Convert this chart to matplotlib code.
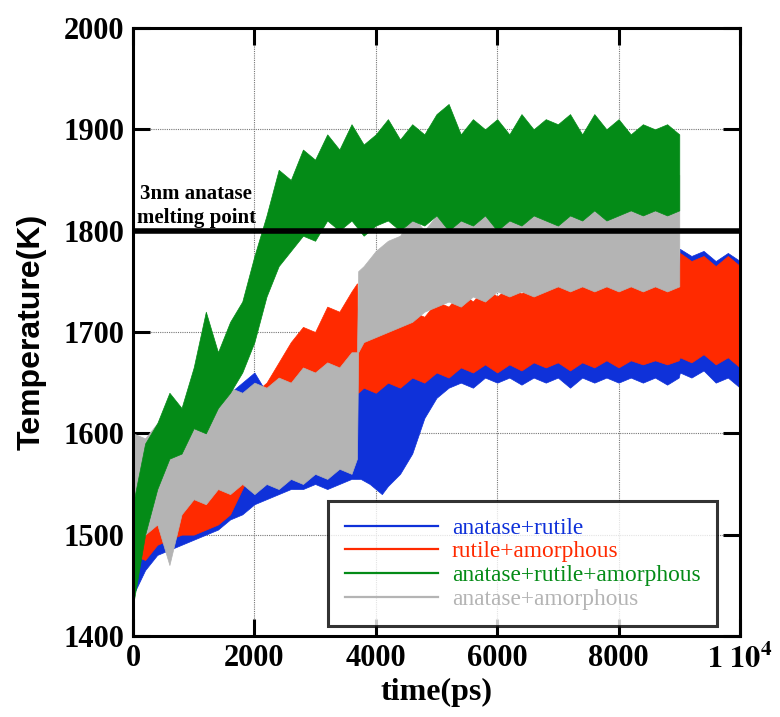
import matplotlib
matplotlib.use("Agg")
import matplotlib.pyplot as plt
from matplotlib.lines import Line2D
from matplotlib.ticker import FixedLocator, FixedFormatter

# Temperature traces: time (ps) with lower / upper extent of the fluctuating signal (K)
t_ar = [0, 200, 400, 600, 800, 1000, 1200, 1400, 1600, 1800, 2000, 2200, 2400, 2600,
        2800, 3000, 3200, 3400, 3600, 3750, 3900, 4000, 4100, 4200, 4400, 4600, 4800,
        5000, 5200, 5400, 5600, 5800, 6000, 6200, 6400, 6600, 6800, 7000, 7200, 7400,
        7600, 7800, 8000, 8200, 8400, 8600, 8800, 8990, 9010, 9200, 9400, 9600, 9800,
        10000]
ar_lo = [1440, 1465, 1480, 1485, 1490, 1495, 1500, 1505, 1515, 1520, 1530, 1535, 1540, 1545,
         1545, 1550, 1545, 1550, 1555, 1555, 1550, 1545, 1540, 1548, 1560, 1580, 1615,
         1635, 1645, 1650, 1645, 1655, 1650, 1655, 1648, 1655, 1650, 1655, 1645, 1655,
         1650, 1655, 1650, 1655, 1650, 1655, 1648, 1655, 1660, 1655, 1662, 1650, 1655,
         1645]
ar_hi = [1560, 1570, 1575, 1585, 1590, 1600, 1610, 1620, 1640, 1650, 1660, 1640, 1650, 1640,
         1650, 1645, 1650, 1655, 1660, 1660, 1665, 1662, 1670, 1665, 1675, 1685, 1700,
         1710, 1720, 1725, 1730, 1730, 1735, 1740, 1735, 1740, 1738, 1745, 1740, 1745,
         1740, 1750, 1760, 1748, 1745, 1750, 1745, 1748, 1782, 1775, 1780, 1770, 1778,
         1770]

t_ra = [0, 200, 400, 600, 800, 1000, 1200, 1400, 1600, 1800, 2000, 2200, 2400, 2600,
        2800, 3000, 3200, 3400, 3600, 3690, 3710, 3800, 4000, 4200, 4400, 4600, 4800,
        5000, 5200, 5400, 5600, 5800, 6000, 6200, 6400, 6600, 6800, 7000, 7200, 7400,
        7600, 7800, 8000, 8200, 8400, 8600, 8800, 8990, 9010, 9200, 9400, 9600, 9800,
        10000]
ra_lo = [1480, 1475, 1490, 1495, 1500, 1500, 1505, 1510, 1520, 1545, 1570, 1595, 1615, 1625,
         1630, 1640, 1645, 1655, 1660, 1670, 1640, 1645, 1640, 1650, 1645, 1655, 1650,
         1660, 1655, 1665, 1660, 1668, 1660, 1668, 1662, 1670, 1665, 1670, 1662, 1670,
         1665, 1672, 1665, 1672, 1668, 1672, 1668, 1672, 1675, 1670, 1678, 1668, 1675,
         1665]
ra_hi = [1570, 1560, 1555, 1560, 1560, 1565, 1570, 1580, 1600, 1625, 1640, 1650, 1670, 1690,
         1705, 1700, 1725, 1720, 1740, 1748, 1690, 1695, 1700, 1705, 1710, 1720, 1715,
         1730, 1725, 1740, 1730, 1745, 1735, 1745, 1738, 1748, 1740, 1750, 1742, 1750,
         1745, 1755, 1745, 1752, 1745, 1755, 1748, 1750, 1778, 1770, 1775, 1765, 1775,
         1765]

t_ara = [0, 200, 400, 600, 800, 1000, 1200, 1400, 1600, 1800, 2000, 2200, 2400, 2600,
         2800, 3000, 3200, 3400, 3600, 3800, 4000, 4200, 4400, 4600, 4800, 5000, 5200,
         5400, 5600, 5800, 6000, 6200, 6400, 6600, 6800, 7000, 7200, 7400, 7600, 7800,
         8000, 8200, 8400, 8600, 8800, 9000]
ara_lo = [1430, 1500, 1545, 1575, 1580, 1605, 1600, 1625, 1640, 1660, 1690, 1735, 1765, 1780,
          1795, 1790, 1810, 1800, 1810, 1795, 1805, 1810, 1800, 1810, 1805, 1815, 1800,
          1810, 1805, 1815, 1800, 1810, 1805, 1815, 1810, 1805, 1815, 1810, 1820, 1810,
          1815, 1820, 1815, 1820, 1815, 1820]
ara_hi = [1530, 1590, 1610, 1640, 1625, 1665, 1720, 1680, 1710, 1730, 1775, 1815, 1860, 1850,
          1880, 1870, 1895, 1880, 1905, 1885, 1895, 1910, 1890, 1905, 1895, 1915, 1925,
          1895, 1910, 1900, 1910, 1895, 1915, 1900, 1910, 1905, 1915, 1895, 1915, 1900,
          1910, 1895, 1905, 1900, 1905, 1895]

t_aa = [0, 200, 400, 600, 800, 1000, 1200, 1400, 1600, 1800, 2000, 2200, 2400, 2600,
        2800, 3000, 3200, 3400, 3600, 3690, 3710, 3800, 4000, 4200, 4400, 4600, 4800,
        5000, 5200, 5400, 5600, 5800, 6000, 6200, 6400, 6600, 6800, 7000, 7200, 7400,
        7600, 7800, 8000, 8200, 8400, 8600, 8800, 9000]
aa_lo = [1470, 1500, 1510, 1470, 1520, 1535, 1530, 1545, 1540, 1550, 1540, 1550, 1545, 1555,
         1550, 1560, 1555, 1565, 1560, 1575, 1680, 1690, 1695, 1700, 1705, 1710, 1720,
         1725, 1730, 1725, 1735, 1730, 1740, 1735, 1740, 1735, 1740, 1745, 1740, 1745,
         1740, 1745, 1740, 1745, 1740, 1745, 1740, 1745]
aa_hi = [1600, 1595, 1610, 1600, 1620, 1625, 1640, 1630, 1645, 1640, 1650, 1645, 1655, 1650,
         1665, 1660, 1670, 1665, 1680, 1680, 1760, 1765, 1780, 1790, 1795, 1815, 1800,
         1815, 1810, 1820, 1815, 1830, 1820, 1830, 1825, 1835, 1830, 1840, 1835, 1845,
         1840, 1850, 1845, 1855, 1850, 1860, 1855, 1855]

melting_point = 1800
labels = ["anatase+rutile", "rutile+amorphous", "anatase+rutile+amorphous", "anatase+amorphous"]
colors = ["#0f31d9", "#ff2a00", "#048b17", "#b4b4b4"]
x_ticks = [0, 2000, 4000, 6000, 8000, 10000]
x_ticklabels = ["0", "2000", "4000", "6000", "8000", r"$\mathbf{1\ 10^{4}}$"]
y_ticks = [1400, 1500, 1600, 1700, 1800, 1900, 2000]

plt.rcParams["mathtext.fontset"] = "stix"
serif = "Liberation Serif"

fig = plt.figure(figsize=(7.8, 7.17), dpi=100)
ax = fig.add_axes([0.1705, 0.113, 0.7782, 0.848])

ax.fill_between(t_ar, ar_lo, ar_hi, color=colors[0], lw=0.5, zorder=2)
ax.fill_between(t_ra, ra_lo, ra_hi, color=colors[1], lw=0.5, zorder=3)
ax.fill_between(t_aa, aa_lo, aa_hi, color=colors[3], lw=0.5, zorder=4)
ax.fill_between(t_ara, ara_lo, ara_hi, color=colors[2], lw=0.5, zorder=5)

ax.axhline(melting_point, color="black", lw=4, zorder=6)
ax.text(1040, 1803, "3nm anatase\nmelting point", ha="center", va="bottom",
        fontsize=15, fontweight="bold", family=serif, linespacing=1.25, zorder=7)

ax.set_xlim(0, 10000)
ax.set_ylim(1400, 2000)
ax.xaxis.set_major_locator(FixedLocator(x_ticks))
ax.xaxis.set_major_formatter(FixedFormatter(x_ticklabels))
ax.yaxis.set_major_locator(FixedLocator(y_ticks))

ax.grid(True, color="#777777", lw=0.8, ls=(0, (1, 1)), zorder=1)
ax.tick_params(direction="in", length=12, width=2.2, top=True, right=True, pad=6)
for lab in ax.get_xticklabels() + ax.get_yticklabels():
    lab.set_fontfamily(serif)
    lab.set_fontweight("bold")
    lab.set_fontsize(22)
for sp in ax.spines.values():
    sp.set_linewidth(2.2)
    sp.set_zorder(8)

ax.set_xlabel("time(ps)", fontsize=23, fontweight="bold", family=serif, labelpad=2)
ax.set_ylabel("Temperature(K)", fontsize=23, fontweight="bold", family="Liberation Sans",
              labelpad=12)

handles = [Line2D([], [], color=c, lw=1.6) for c in colors]
leg = ax.legend(handles, labels, loc="lower right", bbox_to_anchor=(0.962, 0.0164),
                prop={"family": serif, "size": 16.8}, frameon=True, fancybox=False,
                handlelength=4.0, handletextpad=0.6, labelspacing=0.1,
                borderpad=0.7, borderaxespad=0)
leg.get_frame().set_edgecolor("black")
leg.get_frame().set_linewidth(2.2)
leg.set_zorder(9)
for txt, c in zip(leg.get_texts(), colors):
    txt.set_color(c)

fig.savefig("out.png", dpi=100)
